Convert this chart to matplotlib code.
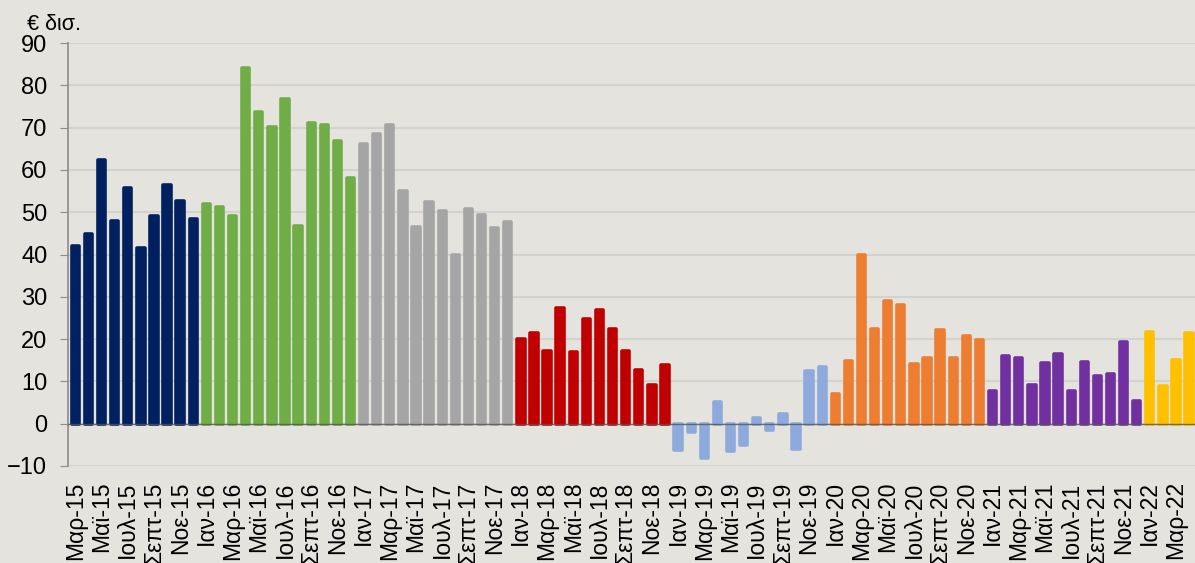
#! /usr/bin/env python3
import matplotlib
matplotlib.use("Agg")
import matplotlib.pyplot as plt
import numpy


# Monthly flows, € bn, March 2015 to April 2022, grouped by year.
values_2015 = [41.9, 44.8, 62.4, 48.0, 55.7, 41.5, 49.1, 56.4, 52.6, 48.4]
values_2016 = [51.9, 51.3, 49.2, 84.0, 73.6, 70.1, 76.8, 46.7, 71.2, 70.6,
               66.8, 58.2]
values_2017 = [66.1, 68.4, 70.7, 55.1, 46.5, 52.5, 50.4, 40.0, 50.7, 49.3,
               46.2, 47.7]
values_2018 = [20.1, 21.5, 17.2, 27.4, 17.0, 24.8, 26.9, 22.4, 17.1, 12.8,
               9.2, 13.8]
values_2019 = [-6.3, -1.9, -8.2, 5.2, -6.5, -5.0, 1.3, -1.5, 2.3, -6.1,
               12.4, 13.4]
values_2020 = [7.1, 14.9, 40.0, 22.3, 29.1, 28.0, 14.0, 15.6, 22.2, 15.6,
               20.8, 19.9]
values_2021 = [7.7, 16.0, 15.5, 9.1, 14.4, 16.5, 7.7, 14.6, 11.2, 11.8,
               19.2, 5.4]
values_2022 = [21.6, 8.9, 15.1, 21.4]

years = [15, 16, 17, 18, 19, 20, 21, 22]
months = ["Ιαν", "Φεβ", "Μαρ", "Απρ", "Μαϊ", "Ιουν",
          "Ιουλ", "Αυγ", "Σεπτ", "Οκτ", "Νοε", "Δεκ"]
unit_label = "€ δισ."

series = [values_2015, values_2016, values_2017, values_2018,
          values_2019, values_2020, values_2021, values_2022]
colors = ["#00205F", "#70AD47", "#A5A5A5", "#C00000",
          "#8EAADC", "#ED7D31", "#7030A0", "#FFC000"]

BACKGROUND = "#E4E3DE"
GRID = "#D3D2CE"

plt.rcParams["font.family"] = ["Liberation Sans", "DejaVu Sans"]

fig = plt.figure(figsize=(11.95, 5.63), dpi=100, facecolor=BACKGROUND)
ax = fig.add_axes([0.057, 0.1723, 0.943, 0.7513], facecolor=BACKGROUND)

labels = []
start = 0
for year, data, color in zip(years, series, colors):
    first_month = 2 if year == 15 else 0
    x = numpy.arange(start, start + len(data))
    ax.bar(x, data, width=0.56, color=color, edgecolor=color,
           linewidth=2.6, joinstyle="round", zorder=2)
    for i in range(len(data)):
        labels.append(f"{months[first_month + i]}-{year}")
    start += len(data)

ax.axhline(0, color="#555555", linewidth=1.0, alpha=0.8, zorder=3)

ax.set_xlim(-0.55, start - 0.55)
ax.set_ylim(-10, 90)
ax.set_yticks(numpy.arange(-10, 91, 10))
ax.yaxis.grid(True, color=GRID, linewidth=1.5, zorder=0)
ax.set_axisbelow(True)

ticks = numpy.arange(0, start, 2)
ax.set_xticks(ticks)
ax.set_xticklabels([labels[i] for i in ticks], rotation=90,
                   fontsize=16.5, va="top")
ax.tick_params(axis="x", length=0, pad=11)
ax.tick_params(axis="y", length=6, color="#8C8C8C", labelsize=17, pad=9)

for side in ["top", "right", "bottom"]:
    ax.spines[side].set_visible(False)
ax.spines["left"].set_color("#8C8C8C")
ax.spines["left"].set_linewidth(1.2)

fig.text(27 / 1195, 1 - 25 / 563, unit_label, fontsize=15.5, va="center")

fig.savefig("out.png", dpi=100, facecolor=BACKGROUND)
